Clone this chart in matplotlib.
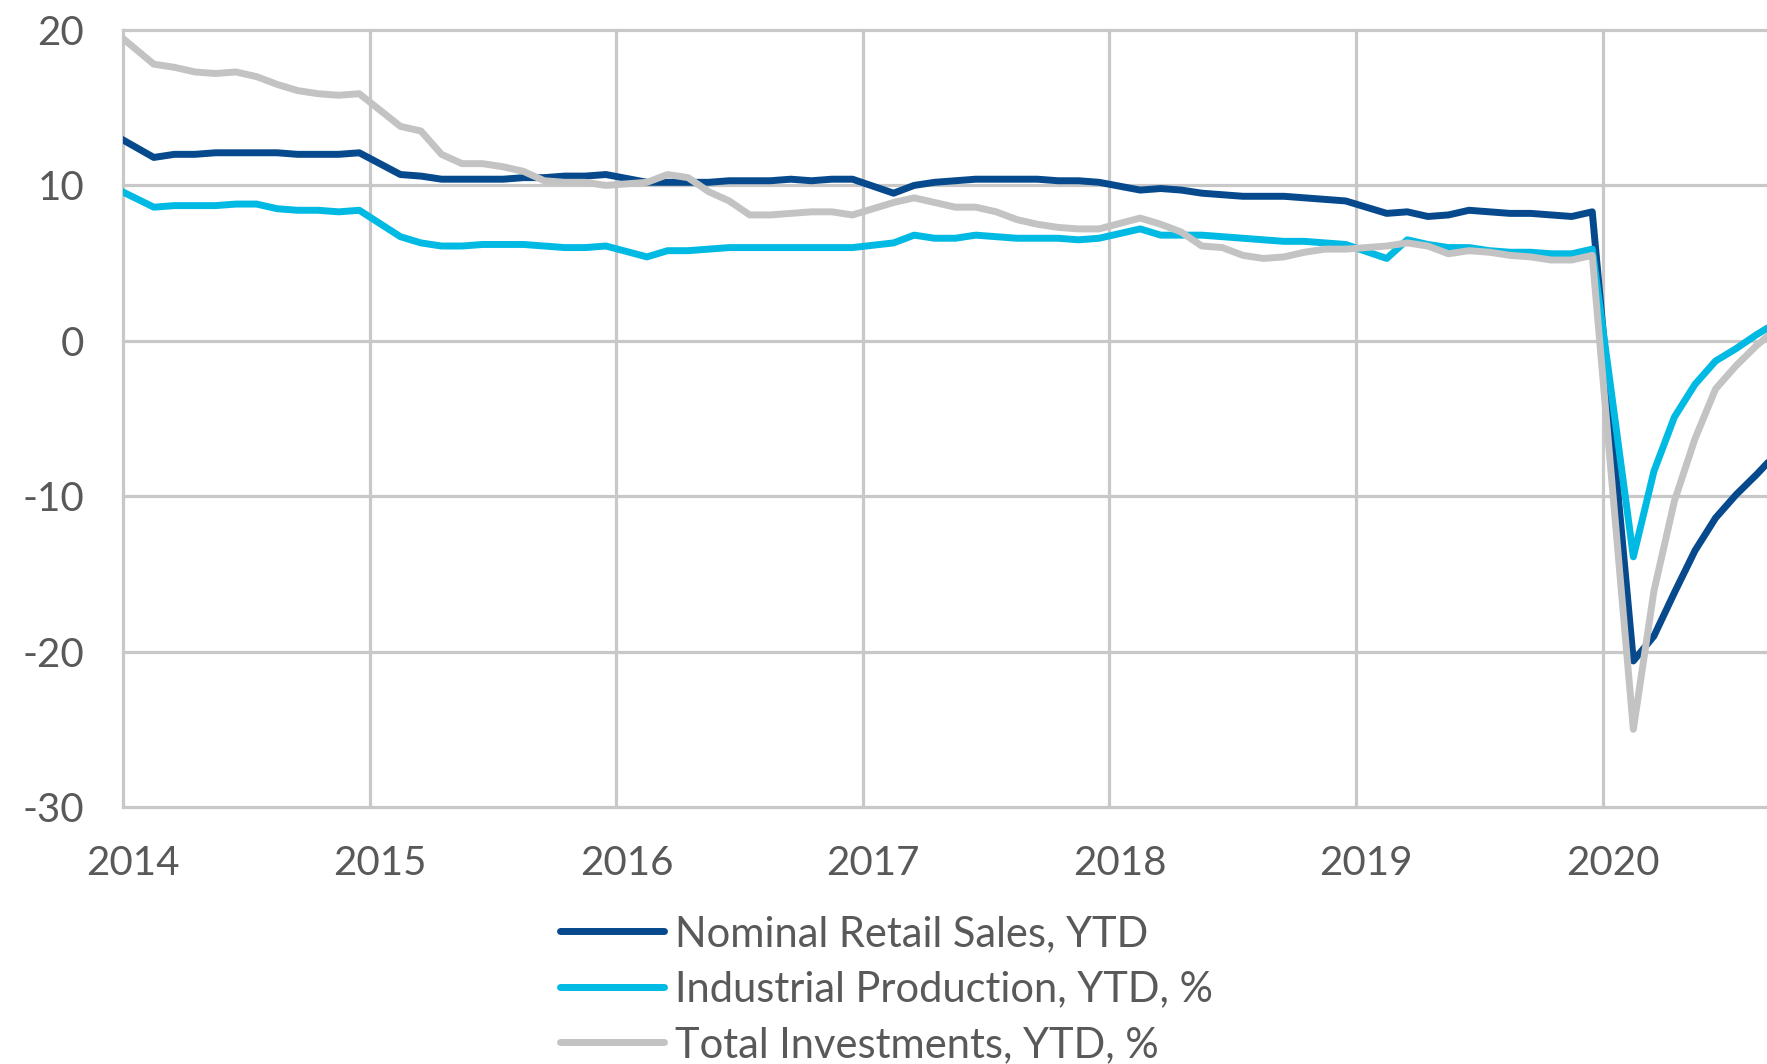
import matplotlib
matplotlib.use("Agg")
import matplotlib.pyplot as plt

# monthly YTD growth, %, China (Jan is not published -> Dec is followed by Feb)
periods = (["2013-12"]
           + [f"{y}-{m:02d}" for y in range(2014, 2020) for m in range(2, 13)]
           + [f"2020-{m:02d}" for m in range(2, 10)])

retail = [13.3,
          11.8, 12.0, 12.0, 12.1, 12.1, 12.1, 12.1, 12.0, 12.0, 12.0, 12.1,
          10.7, 10.6, 10.4, 10.4, 10.4, 10.4, 10.5, 10.5, 10.6, 10.6, 10.7,
          10.2, 10.2, 10.2, 10.2, 10.3, 10.3, 10.3, 10.4, 10.3, 10.4, 10.4,
          9.5, 10.0, 10.2, 10.3, 10.4, 10.4, 10.4, 10.4, 10.3, 10.3, 10.2,
          9.7, 9.8, 9.7, 9.5, 9.4, 9.3, 9.3, 9.3, 9.2, 9.1, 9.0,
          8.2, 8.3, 8.0, 8.1, 8.4, 8.3, 8.2, 8.2, 8.1, 8.0, 8.3,
          -20.6, -19.0, -16.2, -13.5, -11.4, -9.9, -8.6, -7.2]

industrial = [9.9,
              8.6, 8.7, 8.7, 8.7, 8.8, 8.8, 8.5, 8.4, 8.4, 8.3, 8.4,
              6.7, 6.3, 6.1, 6.1, 6.2, 6.2, 6.2, 6.1, 6.0, 6.0, 6.1,
              5.4, 5.8, 5.8, 5.9, 6.0, 6.0, 6.0, 6.0, 6.0, 6.0, 6.0,
              6.3, 6.8, 6.6, 6.6, 6.8, 6.7, 6.6, 6.6, 6.6, 6.5, 6.6,
              7.2, 6.8, 6.8, 6.8, 6.7, 6.6, 6.5, 6.4, 6.4, 6.3, 6.2,
              5.3, 6.5, 6.2, 6.0, 6.0, 5.8, 5.7, 5.7, 5.6, 5.6, 5.9,
              -13.9, -8.4, -4.9, -2.8, -1.3, -0.5, 0.4, 1.2]

investments = [20.0,
               17.8, 17.6, 17.3, 17.2, 17.3, 17.0, 16.5, 16.1, 15.9, 15.8, 15.9,
               13.8, 13.5, 12.0, 11.4, 11.4, 11.2, 10.9, 10.3, 10.2, 10.2, 10.0,
               10.2, 10.7, 10.5, 9.6, 9.0, 8.1, 8.1, 8.2, 8.3, 8.3, 8.1,
               8.9, 9.2, 8.9, 8.6, 8.6, 8.3, 7.8, 7.5, 7.3, 7.2, 7.2,
               7.9, 7.5, 7.0, 6.1, 6.0, 5.5, 5.3, 5.4, 5.7, 5.9, 5.9,
               6.1, 6.3, 6.1, 5.6, 5.8, 5.7, 5.5, 5.4, 5.2, 5.2, 5.5,
               -25.0, -16.1, -10.3, -6.3, -3.1, -1.6, -0.3, 0.8]

years = [2014, 2015, 2016, 2017, 2018, 2019, 2020]
y_ticks = [20, 10, 0, -10, -20, -30]

labels = ["Nominal Retail Sales, YTD", "Industrial Production, YTD, %",
          "Total Investments, YTD, %"]
colors = ["#06498c", "#00bae3", "#c3c3c3"]

# each month is drawn in the middle of its slot, like Excel's date axis
x = [int(p[:4]) + (int(p[5:]) - 0.5) / 12 for p in periods]

plt.rcParams['font.family'] = ['Lato', 'DejaVu Sans']
text_color = "#595959"
grid_color = "#c8c8c8"

fig = plt.figure(figsize=(17.67, 10.64), dpi=100)
ax = fig.add_axes([0.0696, 0.2415, 0.9304, 0.7303])

for v in y_ticks:
    ax.axhline(v, color=grid_color, lw=2.3, zorder=1, clip_on=False)
for yr in years:
    ax.axvline(yr, color=grid_color, lw=2.3, zorder=1, clip_on=False)

for series, lab, col in zip([retail, industrial, investments], labels, colors):
    ax.plot(x, series, color=col, lw=5, label=lab, zorder=3,
            solid_joinstyle='round', solid_capstyle='round')

ax.set_xlim(2014, 2020.667)
ax.set_ylim(-30, 20)
for s in ax.spines.values():
    s.set_visible(False)

ax.set_yticks(y_ticks)
ax.set_yticklabels([str(v) for v in y_ticks])
ax.set_xticks([yr + 1 / 24 for yr in years])
ax.set_xticklabels([str(yr) for yr in years])
ax.tick_params(axis='both', length=0, labelsize=29, colors=text_color)
ax.tick_params(axis='y', pad=28)
ax.tick_params(axis='x', pad=27)

fig.legend(loc='upper left', bbox_to_anchor=(0.317, 0.140), frameon=False,
           fontsize=30, labelcolor=text_color, handlelength=2.5,
           handletextpad=0.25, labelspacing=0.42, borderpad=0,
           borderaxespad=0)

fig.savefig("out.png", dpi=100)
